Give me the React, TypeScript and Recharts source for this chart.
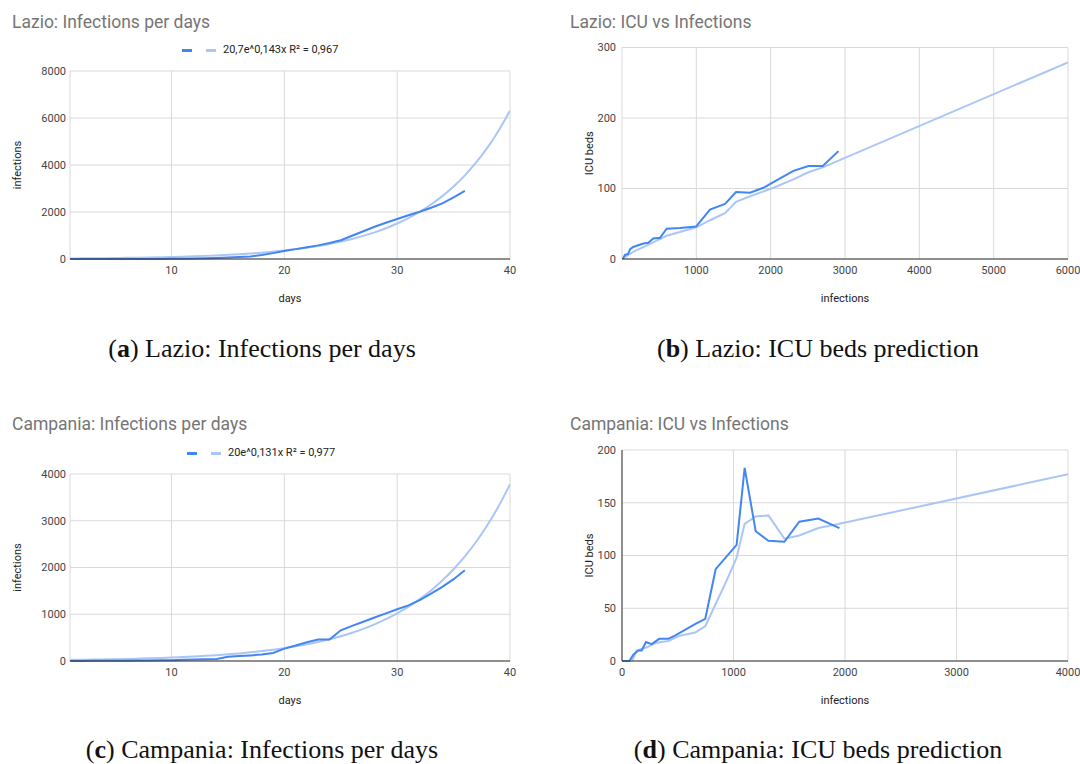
import { LineChart, Line, XAxis, YAxis, CartesianGrid } from "recharts";

// days on the x axis of the two "infections per days" charts
const days = [
  1, 2, 3, 4, 5, 6, 7, 8, 9, 10, 11, 12, 13, 14, 15, 16, 17, 18, 19, 20,
  21, 22, 23, 24, 25, 26, 27, 28, 29, 30, 31, 32, 33, 34, 35, 36, 37, 38, 39, 40,
];

const lazioCases = [
  3, 3, 3, 3, 3, 3, 3, 3, 4, 6, 14, 25, 35, 45, 60, 80, 110, 170, 250, 340,
  420, 500, 580, 680, 800, 990, 1180, 1370, 1540, 1700, 1860, 2010, 2180, 2370, 2620, 2900,
];
const lazioTrend = [
  24, 28, 32, 37, 42, 49, 56, 65, 75, 87, 100, 115, 133, 153, 177, 204, 235, 270, 315, 360,
  420, 480, 555, 640, 740, 850, 985, 1135, 1310, 1510, 1740, 2010, 2320, 2675, 3085, 3560,
  4110, 4740, 5470, 6310,
];

const campaniaCases = [
  1, 2, 3, 4, 6, 8, 10, 12, 15, 18, 25, 30, 38, 45, 90, 105, 120, 140, 171, 265,
  330, 400, 458, 460, 657, 750, 840, 930, 1020, 1107, 1190, 1300, 1440, 1585, 1750, 1942,
];
const campaniaTrend = [
  23, 26, 30, 34, 39, 44, 50, 57, 65, 74, 85, 96, 110, 125, 143, 163, 186, 212, 241, 275,
  314, 357, 407, 464, 529, 603, 688, 784, 894, 1019, 1162, 1324, 1510, 1721, 1962, 2237,
  2550, 2908, 3315, 3780,
];

// ICU beds vs infections
const lazioIcuX = [
  10, 40, 80, 110, 150, 287, 354, 421, 511, 601, 780, 996, 1184, 1386, 1534, 1723, 1902,
  2037, 2306, 2508, 2701, 2912,
];
const lazioIcuY = [
  0, 6, 7, 14, 17, 22, 23, 29, 30, 43, 44, 46, 70, 78, 95, 94, 101, 109, 125, 132, 132, 153,
];
const lazioFitX = [10, 150, 370, 600, 1000, 1184, 1386, 1534, 1723, 2037, 2306, 2508, 2701, 6000];
const lazioFitY = [1, 10, 21, 33, 45, 55, 65, 81, 89, 101, 113, 123, 130, 279];

const campaniaIcuX = [
  0, 66, 102, 146, 176, 215, 266, 334, 415, 475, 655, 747, 840, 1028, 1100, 1199, 1313,
  1456, 1590, 1761, 1950,
];
const campaniaIcuY = [
  0, 0, 6, 10, 10, 18, 16, 21, 21, 24, 35, 40, 87, 110, 183, 123, 114, 113, 132, 135, 126,
];
const campaniaFitX = [
  90, 130, 224, 299, 415, 520, 655, 747, 840, 937, 1028, 1100, 1199, 1313, 1456, 1590,
  1761, 1950, 4000,
];
const campaniaFitY = [
  0, 10, 13, 17, 19, 24, 27, 33, 54, 76, 98, 130, 137, 138, 116, 119, 126, 130, 177,
];

const dayTicks = [10, 20, 30, 40];
const lazioCaseTicks = [0, 2000, 4000, 6000, 8000];
const campaniaCaseTicks = [0, 1000, 2000, 3000, 4000];
const lazioIcuXTicks = [1000, 2000, 3000, 4000, 5000, 6000];
const lazioIcuYTicks = [0, 100, 200, 300];
const campaniaIcuXTicks = [0, 1000, 2000, 3000, 4000];
const campaniaIcuYTicks = [0, 50, 100, 150, 200];

const BLUE = "#4285f4";
const FIT = "#aac6f7";
const GRID = "#d9d9d9";
const FONT = "Roboto, Arial, sans-serif";

const tick = { fill: "#444", fontSize: 11, fontFamily: FONT };
const axisTitle = { fill: "#222", fontSize: 11, fontFamily: FONT };

const titleStyle: React.CSSProperties = {
  position: "absolute",
  left: 12,
  top: 12,
  fontFamily: FONT,
  fontSize: 17.5,
  lineHeight: "20px",
  color: "#757575",
  whiteSpace: "nowrap",
};

function LegendRow({ left, top, text }: { left: number; top: number; text: string }) {
  const sw = (color: string): React.CSSProperties => ({
    display: "inline-block",
    width: 10,
    height: 3,
    background: color,
    verticalAlign: "middle",
    marginRight: 14,
  });
  return (
    <div
      style={{
        position: "absolute",
        left,
        top,
        fontFamily: FONT,
        fontSize: 11,
        lineHeight: "12px",
        color: "#222",
        whiteSpace: "nowrap",
      }}
    >
      <span style={sw(BLUE)} />
      <span style={{ ...sw(FIT), marginRight: 7 }} />
      <span style={{ verticalAlign: "middle" }}>{text}</span>
    </div>
  );
}

function DaysChart(props: {
  top: number;
  plotTop: number;
  title: string;
  legend: string;
  legendLeft: number;
  cases: number[];
  trend: number[];
  yTicks: number[];
}) {
  const rows = days.map((d, i) => ({ day: d, cases: props.cases[i], trend: props.trend[i] }));
  return (
    <div style={{ position: "absolute", left: 0, top: props.top, width: 540, height: 330 }}>
      <LineChart
        width={540}
        height={330}
        data={rows}
        margin={{ top: props.plotTop, right: 30, bottom: 21, left: 0 }}
      >
        <CartesianGrid stroke={GRID} />
        <XAxis
          dataKey="day"
          type="number"
          domain={[1, 40]}
          ticks={dayTicks}
          allowDataOverflow
          height={50}
          tickSize={0}
          tickMargin={7}
          tickLine={false}
          axisLine={{ stroke: "#333" }}
          tick={tick}
          label={{ value: "days", position: "insideBottom", offset: 7, style: axisTitle }}
        />
        <YAxis
          type="number"
          domain={[0, props.yTicks[props.yTicks.length - 1]]}
          ticks={props.yTicks}
          width={70}
          tickSize={0}
          tickMargin={4}
          tickLine={false}
          axisLine={false}
          tick={tick}
          label={{
            value: "infections",
            angle: -90,
            position: "insideLeft",
            offset: 17,
            style: { ...axisTitle, textAnchor: "middle" },
          }}
        />
        <Line
          dataKey="trend"
          type="monotone"
          stroke={FIT}
          strokeWidth={2}
          dot={false}
          isAnimationActive={false}
        />
        <Line
          dataKey="cases"
          type="linear"
          stroke={BLUE}
          strokeWidth={2}
          dot={false}
          isAnimationActive={false}
        />
      </LineChart>
      <div style={titleStyle}>{props.title}</div>
      <LegendRow left={props.legendLeft} top={props.plotTop - 27} text={props.legend} />
    </div>
  );
}

function IcuChart(props: {
  top: number;
  plotTop: number;
  title: string;
  xs: number[];
  ys: number[];
  fitX: number[];
  fitY: number[];
  xTicks: number[];
  yTicks: number[];
  xMax: number;
  leftAxis: boolean;
}) {
  const pts = props.xs.map((x, i) => ({ x, y: props.ys[i] }));
  const fit = props.fitX.map((x, i) => ({ x, y: props.fitY[i] }));
  return (
    <div style={{ position: "absolute", left: 540, top: props.top, width: 540, height: 330 }}>
      <LineChart
        width={540}
        height={330}
        margin={{ top: props.plotTop, right: 12, bottom: 21, left: 0 }}
      >
        <CartesianGrid stroke={GRID} />
        <XAxis
          dataKey="x"
          type="number"
          domain={[0, props.xMax]}
          ticks={props.xTicks}
          allowDataOverflow
          height={50}
          tickSize={0}
          tickMargin={7}
          tickLine={false}
          axisLine={{ stroke: "#333" }}
          tick={tick}
          label={{ value: "infections", position: "insideBottom", offset: 7, style: axisTitle }}
        />
        <YAxis
          dataKey="y"
          type="number"
          domain={[0, props.yTicks[props.yTicks.length - 1]]}
          ticks={props.yTicks}
          width={82}
          tickSize={0}
          tickMargin={6}
          tickLine={false}
          axisLine={props.leftAxis ? { stroke: "#333" } : false}
          tick={tick}
          label={{
            value: "ICU beds",
            angle: -90,
            position: "insideLeft",
            offset: 49,
            style: { ...axisTitle, textAnchor: "middle" },
          }}
        />
        <Line
          data={fit}
          dataKey="y"
          type="linear"
          stroke={FIT}
          strokeWidth={2}
          dot={false}
          isAnimationActive={false}
        />
        <Line
          data={pts}
          dataKey="y"
          type="linear"
          stroke={BLUE}
          strokeWidth={2}
          dot={false}
          isAnimationActive={false}
        />
      </LineChart>
      <div style={{ ...titleStyle, left: 30 }}>{props.title}</div>
    </div>
  );
}

function Caption({ x, y, letter, text }: { x: number; y: number; letter: string; text: string }) {
  return (
    <div
      style={{
        position: "absolute",
        left: x - 270,
        top: y,
        width: 540,
        textAlign: "center",
        fontFamily: "'Liberation Serif', 'Times New Roman', serif",
        fontSize: 26,
        lineHeight: "30px",
        color: "#111",
        whiteSpace: "nowrap",
      }}
    >
      (<b>{letter}</b>) {text}
    </div>
  );
}

export default function App() {
  return (
    <div
      style={{
        position: "absolute",
        left: 0,
        top: 0,
        width: 1080,
        height: 764,
        background: "#fff",
        overflow: "hidden",
      }}
    >
      <DaysChart
        top={0}
        plotTop={71}
        title="Lazio: Infections per days"
        legend="20,7e^0,143x R² = 0,967"
        legendLeft={182}
        cases={lazioCases}
        trend={lazioTrend}
        yTicks={lazioCaseTicks}
      />
      <IcuChart
        top={0}
        plotTop={47.5}
        title="Lazio: ICU vs Infections"
        xs={lazioIcuX}
        ys={lazioIcuY}
        fitX={lazioFitX}
        fitY={lazioFitY}
        xTicks={lazioIcuXTicks}
        yTicks={lazioIcuYTicks}
        xMax={6000}
        leftAxis={false}
      />
      <DaysChart
        top={402}
        plotTop={72}
        title="Campania: Infections per days"
        legend="20e^0,131x R² = 0,977"
        legendLeft={187}
        cases={campaniaCases}
        trend={campaniaTrend}
        yTicks={campaniaCaseTicks}
      />
      <IcuChart
        top={402}
        plotTop={48}
        title="Campania: ICU vs Infections"
        xs={campaniaIcuX}
        ys={campaniaIcuY}
        fitX={campaniaFitX}
        fitY={campaniaFitY}
        xTicks={campaniaIcuXTicks}
        yTicks={campaniaIcuYTicks}
        xMax={4000}
        leftAxis={true}
      />
      <Caption x={262} y={334} letter="a" text="Lazio: Infections per days" />
      <Caption x={818} y={334} letter="b" text="Lazio: ICU beds prediction" />
      <Caption x={262} y={735} letter="c" text="Campania: Infections per days" />
      <Caption x={818} y={735} letter="d" text="Campania: ICU beds prediction" />
    </div>
  );
}
